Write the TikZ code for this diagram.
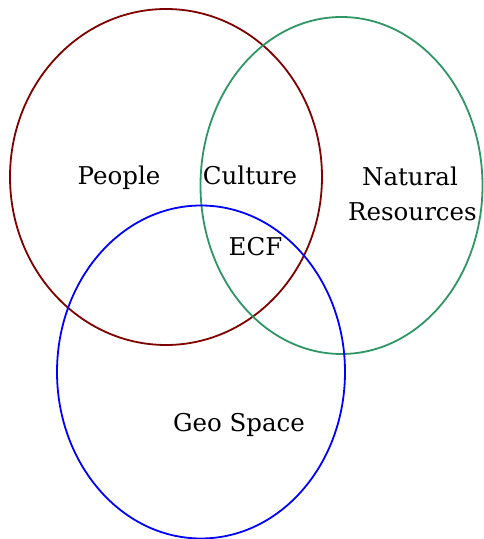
\documentclass[tikz,border=0pt]{standalone}
\usepackage{fontspec}
\setmainfont{DejaVu Serif}
\definecolor{cred}{RGB}{128,0,0}
\definecolor{cgreen}{RGB}{46,150,100}
\definecolor{cblue}{RGB}{0,0,255}
\begin{document}
\begin{tikzpicture}[x=1pt,y=1pt,
  ring/.style={line width=1.8pt},
  lbl/.style={anchor=base,inner sep=0pt,font=\fontsize{24.5}{34}\selectfont}]
\useasboundingbox (0,0) rectangle (483,539);
\draw[ring,cred] (166,362) ellipse [x radius=156,y radius=168];
\draw[ring,cgreen] (341.5,353.5) ellipse [x radius=141,y radius=168.5];
\draw[ring,cblue] (201,167) ellipse [x radius=144,y radius=166.5];
\node[lbl] (people) at (119,354) {People};
\node[lbl] (culture) at (250,354) {Culture};
\node[lbl] (natural) at (410,353.5) {Natural};
\node[lbl] (resources) at (412.5,318) {Resources};
\node[lbl] (ecf) at (255.5,283) {ECF};
\node[lbl] (geo) at (239,107) {Geo Space};
\end{tikzpicture}
\end{document}
